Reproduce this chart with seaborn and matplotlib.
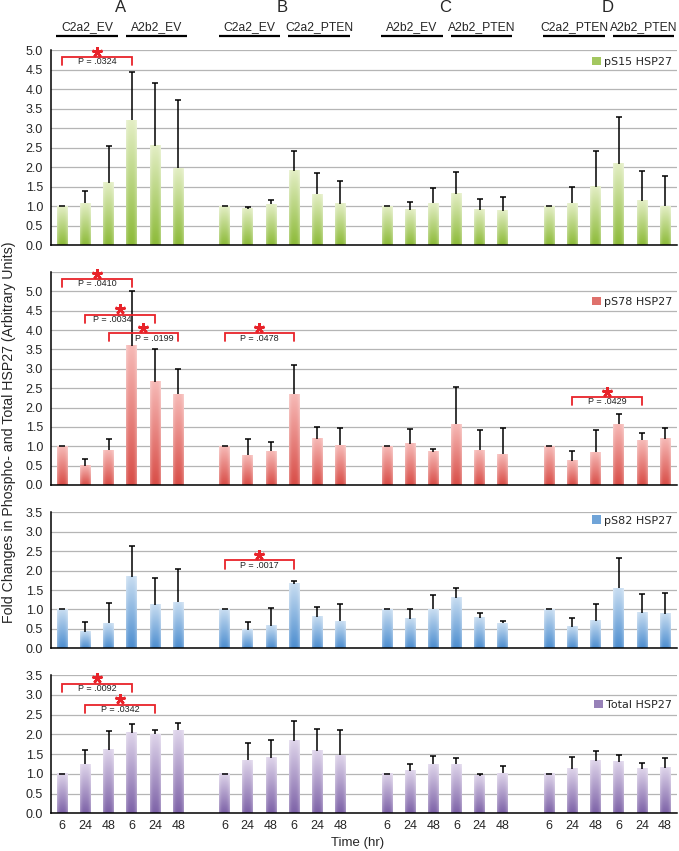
import numpy as np
import pandas as pd
import matplotlib
matplotlib.use("Agg")
import matplotlib.pyplot as plt
import matplotlib.transforms as mtransforms
from matplotlib.colors import to_rgb
from matplotlib.patches import Patch
import seaborn as sns

# ---- data ----
times = [6, 24, 48, 6, 24, 48]
groups = ["A", "B", "C", "D"]
subgroups = [("C2a2_EV", "A2b2_EV"), ("C2a2_EV", "C2a2_PTEN"),
             ("A2b2_EV", "A2b2_PTEN"), ("C2a2_PTEN", "A2b2_PTEN")]

ps15_mean = [1.00, 1.07, 1.60, 3.20, 2.54, 1.97,
             1.00, 0.93, 1.05, 1.90, 1.30, 1.06,
             1.00, 0.90, 1.07, 1.31, 0.90, 0.88,
             1.00, 1.07, 1.50, 2.08, 1.13, 1.00]
ps15_err = [0.00, 0.32, 0.95, 1.24, 1.62, 1.75,
            0.00, 0.04, 0.11, 0.52, 0.54, 0.59,
            0.00, 0.20, 0.39, 0.56, 0.28, 0.35,
            0.00, 0.42, 0.91, 1.20, 0.76, 0.76]

ps78_mean = [1.00, 0.50, 0.90, 3.59, 2.67, 2.34,
             1.00, 0.77, 0.87, 2.34, 1.20, 1.03,
             1.00, 1.06, 0.86, 1.57, 0.90, 0.79,
             1.00, 0.63, 0.84, 1.57, 1.16, 1.20]
ps78_err = [0.00, 0.17, 0.30, 1.43, 0.84, 0.66,
            0.00, 0.42, 0.25, 0.76, 0.30, 0.43,
            0.00, 0.39, 0.06, 0.96, 0.53, 0.67,
            0.00, 0.25, 0.58, 0.26, 0.17, 0.28]

ps82_mean = [1.00, 0.42, 0.64, 1.83, 1.12, 1.18,
             1.00, 0.47, 0.58, 1.66, 0.81, 0.69,
             1.00, 0.75, 1.00, 1.29, 0.78, 0.64,
             1.00, 0.55, 0.71, 1.54, 0.92, 0.88]
ps82_err = [0.00, 0.25, 0.52, 0.80, 0.68, 0.85,
            0.00, 0.20, 0.45, 0.06, 0.26, 0.44,
            0.00, 0.25, 0.36, 0.27, 0.12, 0.07,
            0.00, 0.24, 0.42, 0.78, 0.49, 0.54]

total_mean = [1.00, 1.24, 1.60, 2.03, 2.00, 2.10,
              1.00, 1.34, 1.41, 1.84, 1.58, 1.47,
              1.00, 1.07, 1.24, 1.24, 0.95, 1.01,
              1.00, 1.12, 1.32, 1.31, 1.12, 1.15]
total_err = [0.00, 0.36, 0.48, 0.24, 0.10, 0.18,
             0.00, 0.43, 0.44, 0.49, 0.55, 0.63,
             0.00, 0.17, 0.22, 0.17, 0.05, 0.20,
             0.00, 0.30, 0.26, 0.18, 0.16, 0.24]

# significance brackets: (first bar slot, last bar slot, height, p text, text shift)
ps15_sig = [(0, 3, 4.82, "P = .0324", 0.0)]
ps78_sig = [(0, 3, 5.32, "P = .0410", 0.0), (1, 4, 4.40, "P = .0034", -0.35),
            (2, 5, 3.92, "P = .0199", 0.45), (7, 10, 3.92, "P = .0478", 0.0),
            (22, 25, 2.27, "P = .0429", 0.0)]
ps82_sig = [(7, 10, 2.26, "P = .0017", 0.0)]
total_sig = [(0, 3, 3.28, "P = .0092", 0.0), (1, 4, 2.75, "P = .0342", 0.0)]

# ---- style ----
sns.set_style("white")
plt.rcParams["font.family"] = ["Liberation Sans", "DejaVu Sans"]

panels = [
    dict(name="pS15 HSP27", mean=ps15_mean, err=ps15_err, sig=ps15_sig,
         top="#e3eec4", bottom="#8cba38", ymax=5.0, leg_y=0.94,
         rect=[0.0746, 0.7121, 0.922, 0.2291]),
    dict(name="pS78 HSP27", mean=ps78_mean, err=ps78_err, sig=ps78_sig,
         top="#f6b9b6", bottom="#d84d47", ymax=5.5, leg_y=0.86,
         rect=[0.0746, 0.4301, 0.922, 0.2503]),
    dict(name="pS82 HSP27", mean=ps82_mean, err=ps82_err, sig=ps82_sig,
         top="#c8ddf1", bottom="#4c8dcf", ymax=3.5, leg_y=0.94,
         rect=[0.0746, 0.2382, 0.922, 0.1598]),
    dict(name="Total HSP27", mean=total_mean, err=total_err, sig=total_sig,
         top="#ded4ea", bottom="#7d62a7", ymax=3.5, leg_y=0.785,
         rect=[0.0746, 0.0443, 0.922, 0.1622]),
]

# categorical slots: 6 bars per group with an empty slot between groups
order = []
slot_labels = []
for g_i, g in enumerate(groups):
    for i, t in enumerate(times):
        order.append(f"{g}{i}")
        slot_labels.append(str(t))
    if g_i < len(groups) - 1:
        order.append(f"gap{g_i}")
        slot_labels.append("")
bar_keys = [f"{g}{i}" for g in groups for i in range(6)]
bar_pos = [order.index(k) for k in bar_keys]


def gradient(top, bottom):
    t = np.linspace(0, 1, 64)[:, None, None]
    u = np.linspace(0, 1, 16)[None, :, None]
    base = np.array(to_rgb(bottom)) * (1 - t) + np.array(to_rgb(top)) * t
    edge = np.abs(2 * u - 1) ** 3 * 0.3
    return base * (1 - edge) + edge


fig = plt.figure(figsize=(6.79, 8.51), dpi=100)
axes = []

for p_i, p in enumerate(panels):
    ax = fig.add_axes(p["rect"])
    axes.append(ax)
    df = pd.DataFrame({"slot": bar_keys, "value": p["mean"]})
    sns.barplot(data=df, x="slot", y="value", order=order, width=0.46,
                color=p["bottom"], errorbar=None, ax=ax, zorder=2)

    # vertical gradient fill like the original spreadsheet bars
    img = gradient(p["top"], p["bottom"])
    for patch in list(ax.patches):
        x0, y0 = patch.get_x(), patch.get_y()
        w, h = patch.get_width(), patch.get_height()
        if np.isnan(h) or h == 0:
            continue
        ax.imshow(img, extent=[x0, x0 + w, y0, y0 + h], origin="lower",
                  aspect="auto", zorder=2.5, interpolation="bilinear")
        patch.set_visible(False)

    eb = ax.errorbar(bar_pos, p["mean"], yerr=[np.zeros(24), p["err"]], fmt="none",
                     ecolor="black", elinewidth=1.1, capsize=2.5, capthick=1.1, zorder=4)
    eb[1][0].set_visible(False)

    # significance brackets
    for s0, s1, yb, txt, dx in p["sig"]:
        x0, x1 = s0, s1
        ax.plot([x0, x0, x1, x1], [yb - 0.21, yb, yb, yb - 0.21], color="#e8232a",
                lw=1.3, zorder=5, clip_on=False, solid_joinstyle="miter")
        ax.text((x0 + x1) / 2 + dx, yb - 0.125, txt, ha="center", va="center",
                fontsize=6.5, color="#222222", zorder=5)
        ax.plot([(x0 + x1) / 2], [yb + 0.14], marker=(5, 2, 0), ms=7.5, mew=1.9,
                color="#e8232a", zorder=5, clip_on=False)

    ax.set_xlim(-0.5, 26.5)
    ax.set_ylim(0, p["ymax"])
    yt = np.arange(0, p["ymax"] + 0.01, 0.5)
    ax.set_yticks(yt)
    ax.set_yticklabels([f"{v:.1f}" if v <= 5.0 else "" for v in yt], fontsize=9)
    ax.yaxis.grid(True, color="#b5b5b5", lw=0.9, zorder=0)
    ax.xaxis.grid(False)
    ax.set_axisbelow(True)

    ax.set_xticks(np.arange(-0.5, 27, 1), minor=True)
    ax.set_xticks(range(len(order)))
    if p_i == len(panels) - 1:
        ax.set_xticklabels(slot_labels, fontsize=9)
    else:
        ax.set_xticklabels([])
    ax.tick_params(axis="x", which="major", length=0, pad=5)
    ax.tick_params(axis="x", which="minor", direction="out", length=3.5, width=1, color="black")
    ax.tick_params(axis="y", direction="out", length=3, width=1, color="black", pad=2.5)
    ax.set_xlabel("")
    ax.set_ylabel("")
    sns.despine(ax=ax, top=True, right=True)
    for side in ["left", "bottom"]:
        ax.spines[side].set_color("black")
        ax.spines[side].set_linewidth(1.1)

    handle = Patch(facecolor=p["bottom"], edgecolor="none", alpha=0.8)
    ax.legend([handle], [p["name"]], loc="center right", bbox_to_anchor=(1.0, p["leg_y"]),
              frameon=False, handlelength=0.8, handleheight=0.8, handletextpad=0.3,
              borderaxespad=0, prop={"family": "DejaVu Sans", "size": 8})

# group headers above the top panel
top_ax = axes[0]
trans = mtransforms.blended_transform_factory(top_ax.transData, fig.transFigure)
for g_i, g in enumerate(groups):
    start = g_i * 7
    top_ax.text(start + 2.5, 0.9906, g, transform=trans, ha="center", va="center",
                fontsize=12)
    for k, lab in enumerate(subgroups[g_i]):
        s = start + 3 * k
        top_ax.plot([s - 0.25, s + 2.4], [0.9577, 0.9577], color="black", lw=1.6,
                    transform=trans, clip_on=False, solid_capstyle="butt")
        top_ax.text(s + 1.08, 0.9677, lab, transform=trans, ha="center", va="center",
                    fontsize=8.7)

fig.text(0.013, 0.492, "Fold Changes in Phospho- and Total HSP27 (Arbitrary Units)",
         rotation=90, ha="center", va="center", fontsize=10.2)
fig.text(0.527, 0.0094, "Time (hr)", ha="center", va="center", fontsize=9.5)

fig.savefig("out.png", dpi=100, facecolor="white")
